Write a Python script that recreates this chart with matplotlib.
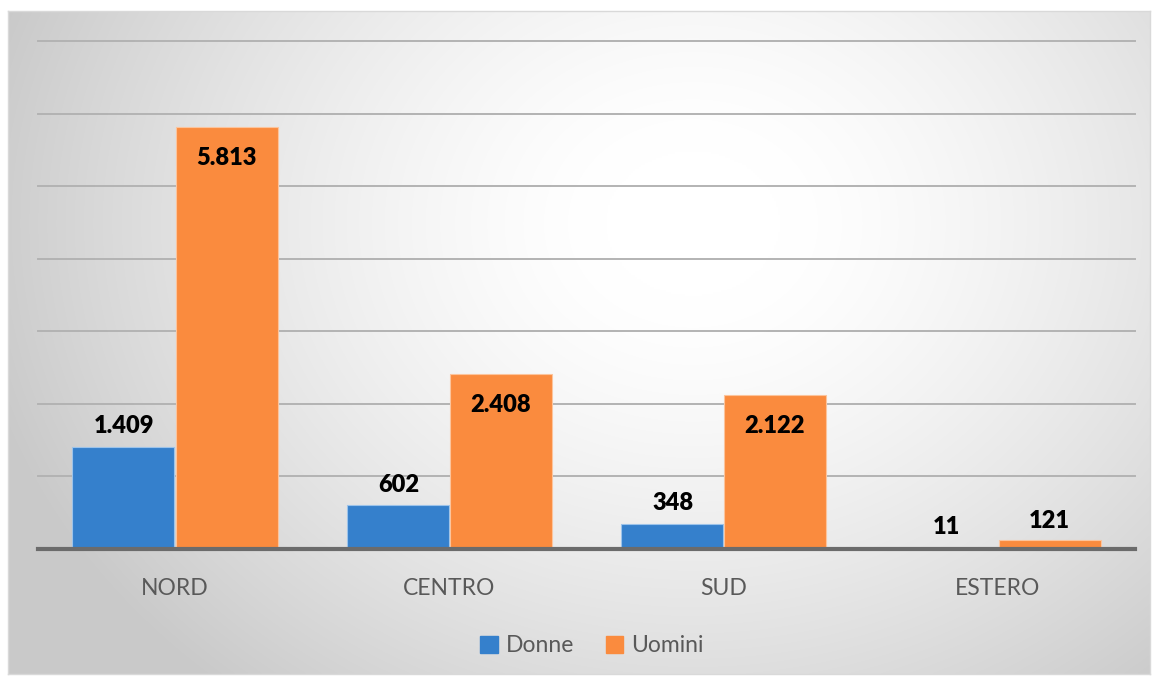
import numpy as np
import matplotlib
matplotlib.use("Agg")
import matplotlib.pyplot as plt
from matplotlib.patches import Rectangle

categories = ["NORD", "CENTRO", "SUD", "ESTERO"]
donne = [1409, 602, 348, 11]
uomini = [5813, 2408, 2122, 121]
series_names = ["Donne", "Uomini"]

BLUE = "#3580CC"
ORANGE = "#FA8B3E"
FONT = ["Lato", "DejaVu Sans"]

W, H = 1152, 679
fig = plt.figure(figsize=(W / 100, H / 100), dpi=100)
fig.patch.set_facecolor("white")

# background panel with radial gradient
px0, py0, px1, py1 = 8, 11, 1150, 674
bg = fig.add_axes([px0 / W, 1 - py1 / H, (px1 - px0) / W, (py1 - py0) / H])
gx, gy = np.meshgrid(np.linspace(0, 1, 600), np.linspace(0, 1, 350))
cx, cy = 0.6, 0.32
r = np.sqrt(((gx - cx) / 0.64) ** 2 + ((gy - cy) / 0.92) ** 2)
r = np.clip((r - 0.12) / 0.88, 0, 1)
val = 1.0 - 0.21 * r ** 1.4
img = np.dstack([val, val, val])
bg.imshow(img, aspect="auto", extent=[0, 1, 1, 0], interpolation="bilinear")
bg.set_xlim(0, 1)
bg.set_ylim(1, 0)
bg.set_xticks([])
bg.set_yticks([])
for s in bg.spines.values():
    s.set_color("#d9d9d9")
    s.set_linewidth(1)

# main axes
ax_l, ax_r = 38, 1135
ax_b, ax_t = 549, 41
ax = fig.add_axes([ax_l / W, 1 - ax_b / H, (ax_r - ax_l) / W, (ax_b - ax_t) / H])
ax.patch.set_alpha(0)
ax.set_xlim(-0.5, 3.5)
ax.set_ylim(0, 7000)

x = np.arange(len(categories))
bw = 0.372
ax.bar(x - bw / 2 - 0.003, donne, bw, color=BLUE, edgecolor="#9cc3ea", linewidth=0.8, zorder=3)
ax.bar(x + bw / 2 + 0.003, uomini, bw, color=ORANGE, edgecolor="#fcc49c", linewidth=0.8, zorder=3)

for yv in range(1000, 7001, 1000):
    ax.axhline(yv, color="#b3b3b3", linewidth=1.4, zorder=1, clip_on=False)
ax.axhline(0, color="#6b6b6b", linewidth=3.0, zorder=4, clip_on=False)

def fmt(v):
    return f"{v:,}".replace(",", ".")

LBL = dict(fontsize=17, fontweight="heavy", family=FONT, color="black", zorder=5, ha="center")
for i, v in enumerate(donne):
    ax.annotate(fmt(v), (x[i] - bw / 2, v), xytext=(0, 7), textcoords="offset points",
                va="bottom", **LBL)
for i, v in enumerate(uomini):
    if v > 500:
        ax.annotate(fmt(v), (x[i] + bw / 2, v), xytext=(0, -14.5), textcoords="offset points",
                    va="top", **LBL)
    else:
        ax.annotate(fmt(v), (x[i] + bw / 2, v), xytext=(0, 6), textcoords="offset points",
                    va="bottom", **LBL)

ax.set_xticks(x)
ax.set_xticklabels(categories, fontsize=16.5, color="#595959", family=FONT)
ax.tick_params(axis="x", length=0, pad=21)
ax.set_yticks([])
for s in ax.spines.values():
    s.set_visible(False)

# legend
handles = [Rectangle((0, 0), 1, 1, color=BLUE), Rectangle((0, 0), 1, 1, color=ORANGE)]
leg = fig.legend(handles, series_names, loc="center", bbox_to_anchor=(592 / W, 1 - 646 / H),
                 ncol=2, frameon=False, prop={"family": FONT, "size": 16.5},
                 handlelength=0.75, handleheight=0.75, handletextpad=0.35, columnspacing=1.4)
for t in leg.get_texts():
    t.set_color("#595959")

fig.savefig("out.png", dpi=100)
